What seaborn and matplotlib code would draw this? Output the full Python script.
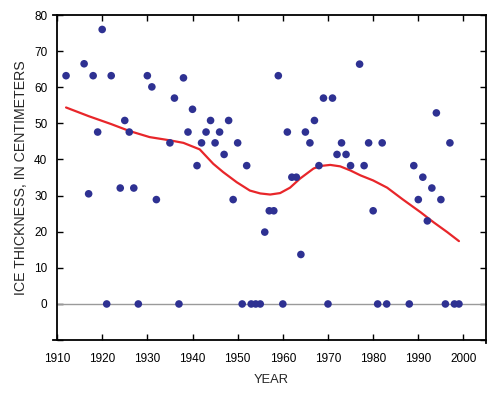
import matplotlib
matplotlib.use("Agg")
import matplotlib.pyplot as plt
import seaborn as sns

# observed ice thickness per year (cm)
years = [1912, 1916, 1917, 1918, 1919, 1920, 1921, 1922, 1924, 1925,
         1926, 1927, 1928, 1930, 1931, 1932, 1935, 1936, 1937, 1938,
         1939, 1940, 1941, 1942, 1943, 1944, 1945, 1946, 1947, 1948,
         1949, 1950, 1951, 1952, 1953, 1954, 1955, 1956, 1957, 1958,
         1959, 1960, 1961, 1962, 1963, 1964, 1965, 1966, 1967, 1968,
         1969, 1970, 1971, 1972, 1973, 1974, 1975, 1977, 1978, 1979,
         1980, 1981, 1982, 1983, 1988, 1989, 1990, 1991, 1992, 1993,
         1994, 1995, 1996, 1997, 1998, 1999]
thickness = [63.2, 66.5, 30.5, 63.2, 47.6, 76.0, 0, 63.2, 32.1, 50.8,
             47.6, 32.1, 0, 63.2, 60.1, 28.9, 44.6, 57.0, 0, 62.6,
             47.6, 53.9, 38.3, 44.6, 47.6, 50.8, 44.6, 47.6, 41.4, 50.8,
             28.9, 44.6, 0, 38.3, 0, 0, 0, 19.9, 25.8, 25.8,
             63.2, 0, 47.6, 35.1, 35.1, 13.7, 47.6, 44.6, 50.8, 38.3,
             57.0, 0, 57.0, 41.4, 44.6, 41.4, 38.3, 66.4, 38.3, 44.6,
             25.8, 0, 44.6, 0, 0, 38.3, 28.9, 35.1, 23.0, 32.1,
             52.9, 28.9, 0, 44.6, 0, 0]

# smoothed trend line
trend_years = [1912, 1917, 1922, 1926, 1930.5, 1935, 1938, 1941.6, 1944.6, 1946.8,
               1949.8, 1952.7, 1955, 1957.2, 1959.4, 1961.6, 1963.8, 1966.8, 1968.3, 1970.5,
               1972.7, 1974.9, 1977.2, 1980, 1983.1, 1986.5, 1990.5, 1993.4, 1996.4, 1999]
trend_values = [54.4, 52.0, 49.8, 47.9, 46.2, 45.3, 44.6, 42.8, 38.8, 36.5,
                33.7, 31.4, 30.6, 30.3, 30.7, 32.2, 34.7, 37.5, 38.2, 38.5,
                38.1, 37.0, 35.6, 34.2, 32.2, 29.0, 25.4, 22.6, 19.9, 17.4]

x_ticks = [1910, 1920, 1930, 1940, 1950, 1960, 1970, 1980, 1990, 2000]
y_ticks = [-10, 0, 10, 20, 30, 40, 50, 60, 70, 80]
y_tick_labels = ["", "0", "10", "20", "30", "40", "50", "60", "70", "80"]

sns.set_style("ticks")
plt.rcParams['font.family'] = ['Liberation Sans', 'DejaVu Sans']

fig = plt.figure(figsize=(4.98, 3.95), dpi=100)
ax = fig.add_axes([0.1145, 0.139, 0.8615, 0.823])

ax.axhline(0, color="#9a9a9a", linewidth=1.0, zorder=1)
sns.lineplot(x=trend_years, y=trend_values, color="#e8262a", linewidth=1.6,
             ax=ax, zorder=2)
sns.scatterplot(x=years, y=thickness, color="#2e3192", s=30, edgecolor="none",
                ax=ax, zorder=3)

ax.set_xlim(1910, 2005)
ax.set_ylim(-10, 80)
ax.set_xticks(x_ticks)
ax.set_yticks(y_ticks)
ax.set_yticklabels(y_tick_labels)
ax.tick_params(direction="in", length=4, width=1, top=True, right=True,
               labelsize=8.5, colors="black")
ax.tick_params(axis="x", pad=9)
ax.tick_params(axis="y", pad=7)
for sp in ax.spines.values():
    sp.set_linewidth(1.3)
    sp.set_color("black")
# small overshoot of the frame lines, as in the original
ax.spines["top"].set_bounds(1909.0, 2005)
ax.spines["bottom"].set_bounds(1909.0, 2005)
ax.spines["right"].set_bounds(-10.8, 80)
ax.set_xlabel("YEAR", fontsize=9.3, labelpad=7)
ax.set_ylabel("ICE THICKNESS, IN CENTIMETERS", fontsize=10.2, labelpad=4)

fig.savefig("out.png", dpi=100)
